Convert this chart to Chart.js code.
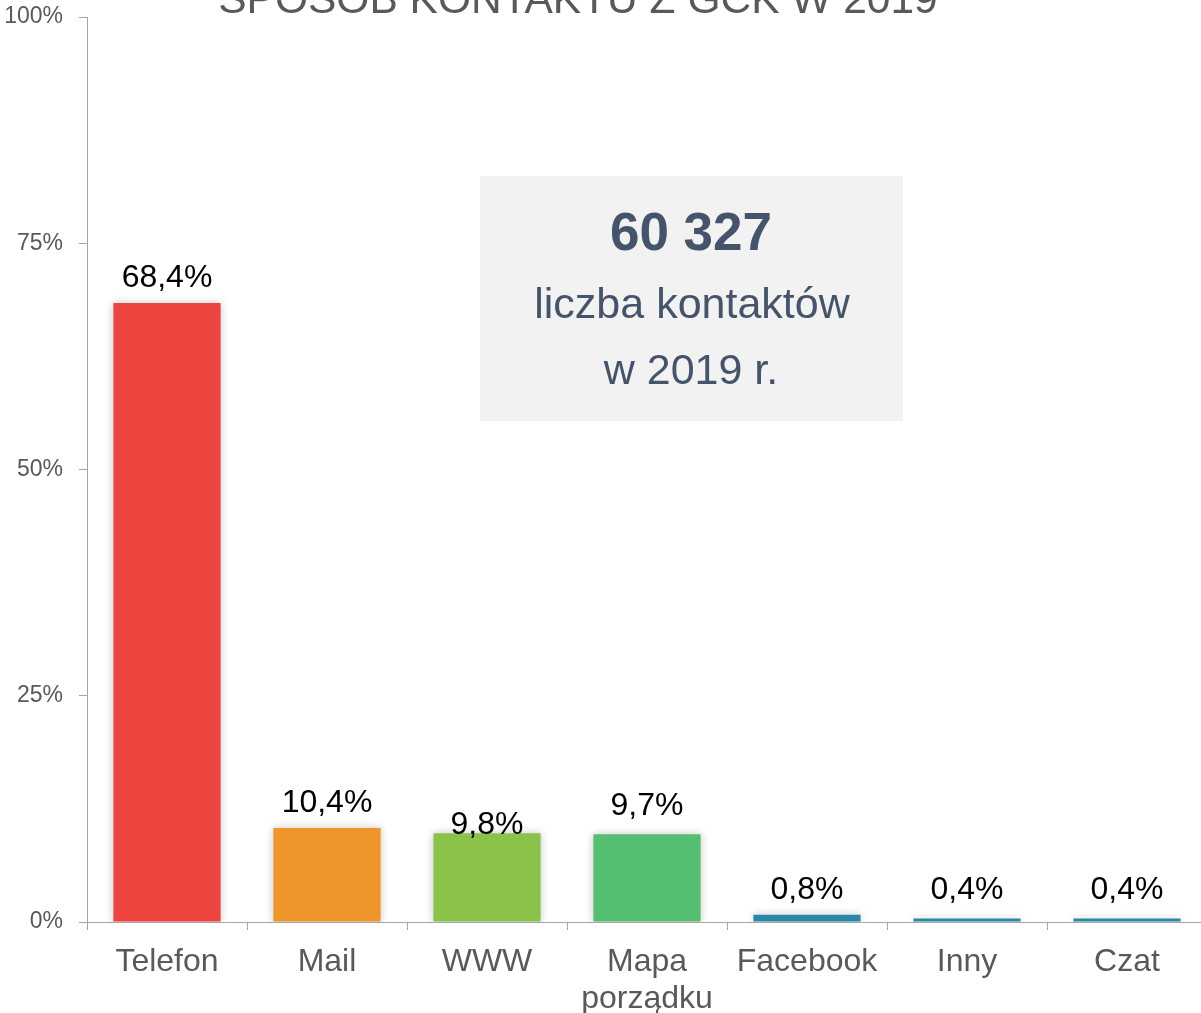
<!DOCTYPE html>
<html lang="pl">
<head>
    <meta charset="UTF-8">
    <title>Sposób kontaktu z GCK w 2019</title>
    <style>
        html, body { margin: 0; padding: 0; background: #fff; overflow: hidden; }
        #wrap { position: relative; width: 1207px; height: 1013px; }
    </style>
</head>
<body>
    <div id="wrap">
        <canvas id="chart" width="1207" height="1013"></canvas>
    </div>

    <script src="https://cdn.jsdelivr.net/npm/chart.js"></script>
    <script>
        // Dane
        var categories = ['Telefon', 'Mail', 'WWW', ['Mapa', 'porządku'], 'Facebook', 'Inny', 'Czat'];
        var shares = [68.4, 10.4, 9.8, 9.7, 0.8, 0.4, 0.4];
        var yTicks = [0, 25, 50, 75, 100];
        var barColors = ['#ee4440', '#ee962a', '#8bc34a', '#54bf71', '#2a87a8', '#2a87a8', '#2a87a8'];
        var titleText = 'SPOSÓB KONTAKTU Z GCK W 2019';
        var boxLines = ['60 327', 'liczba kontaktów', 'w 2019 r.'];

        var FONT = "'Liberation Sans', Arial, sans-serif";

        // tytuł (ucięty u góry) + ramka z liczbą kontaktów
        var decorPlugin = {
            id: 'decor',
            afterDraw: function (chart) {
                var c = chart.ctx;
                c.save();
                c.fillStyle = '#595959';
                c.font = '42.5px ' + FONT;
                c.textAlign = 'center';
                c.textBaseline = 'alphabetic';
                c.fillText(titleText, 578, 13);

                c.fillStyle = '#f2f2f2';
                c.fillRect(480, 176, 423, 245);
                c.fillStyle = '#44546a';
                c.font = 'bold 53px ' + FONT;
                c.fillText(boxLines[0], 691, 250);
                c.font = '43px ' + FONT;
                c.fillText(boxLines[1], 692, 318);
                c.fillText(boxLines[2], 691, 384);
                c.restore();
            }
        };

        // cień słupków
        var shadowPlugin = {
            id: 'barShadow',
            beforeDatasetsDraw: function (chart) {
                var c = chart.ctx;
                c.save();
                c.shadowColor = 'rgba(0,0,0,0.22)';
                c.shadowBlur = 8;
                c.shadowOffsetX = 0;
                c.shadowOffsetY = 0;
            },
            afterDatasetsDraw: function (chart) {
                chart.ctx.restore();
            }
        };

        // etykiety wartości nad słupkami
        var valueLabels = {
            id: 'valueLabels',
            afterDatasetsDraw: function (chart, args, opts) {
                var c = chart.ctx;
                var meta = chart.getDatasetMeta(0);
                c.save();
                c.fillStyle = '#000';
                c.font = '32px ' + FONT;
                c.textAlign = 'center';
                c.textBaseline = 'alphabetic';
                meta.data.forEach(function (bar, i) {
                    var v = chart.data.datasets[0].data[i];
                    var gap = (opts.gaps && opts.gaps[i] !== undefined) ? opts.gaps[i] : 16;
                    c.fillText(v.toFixed(1).replace('.', ',') + '%', bar.x, bar.y - gap);
                });
                c.restore();
            }
        };

        var ctx = document.getElementById('chart').getContext('2d');
        var chart = new Chart(ctx, {
            type: 'bar',
            data: {
                labels: categories,
                datasets: [{
                    data: shares,
                    backgroundColor: barColors,
                    borderWidth: 0,
                    categoryPercentage: 0.67,
                    barPercentage: 1
                }]
            },
            options: {
                responsive: false,
                animation: false,
                layout: { padding: { top: 17, right: 0, bottom: 0, left: 0 } },
                plugins: {
                    legend: { display: false },
                    tooltip: { enabled: false },
                    valueLabels: { gaps: { 2: -1, 3: 19, 5: 19, 6: 19 } }
                },
                scales: {
                    x: {
                        grid: {
                            display: true,
                            drawOnChartArea: false,
                            drawTicks: true,
                            tickLength: 8,
                            color: '#a6a6a6',
                            offset: true
                        },
                        border: { display: true, color: '#a6a6a6', width: 1 },
                        ticks: {
                            color: '#595959',
                            font: { family: FONT, size: 32, lineHeight: 1.15 },
                            padding: 14,
                            maxRotation: 0,
                            autoSkip: false
                        },
                        afterFit: function (axis) {
                            axis.height = 91;
                            axis.paddingLeft = 0;
                            axis.paddingRight = 0;
                        }
                    },
                    y: {
                        min: 0,
                        max: 100,
                        afterBuildTicks: function (axis) {
                            axis.ticks = yTicks.map(function (v) { return { value: v }; });
                        },
                        grid: {
                            display: true,
                            drawOnChartArea: false,
                            drawTicks: true,
                            tickLength: 8,
                            color: '#a6a6a6'
                        },
                        border: { display: true, color: '#a6a6a6', width: 1 },
                        ticks: {
                            color: '#595959',
                            font: { family: FONT, size: 23 },
                            padding: 16,
                            callback: function (v) { return v + '%'; }
                        },
                        afterFit: function (axis) {
                            axis.width = 87;
                            axis.paddingTop = 0;
                            axis.paddingBottom = 0;
                        }
                    }
                }
            },
            plugins: [shadowPlugin, valueLabels, decorPlugin]
        });
    </script>
</body>
</html>
